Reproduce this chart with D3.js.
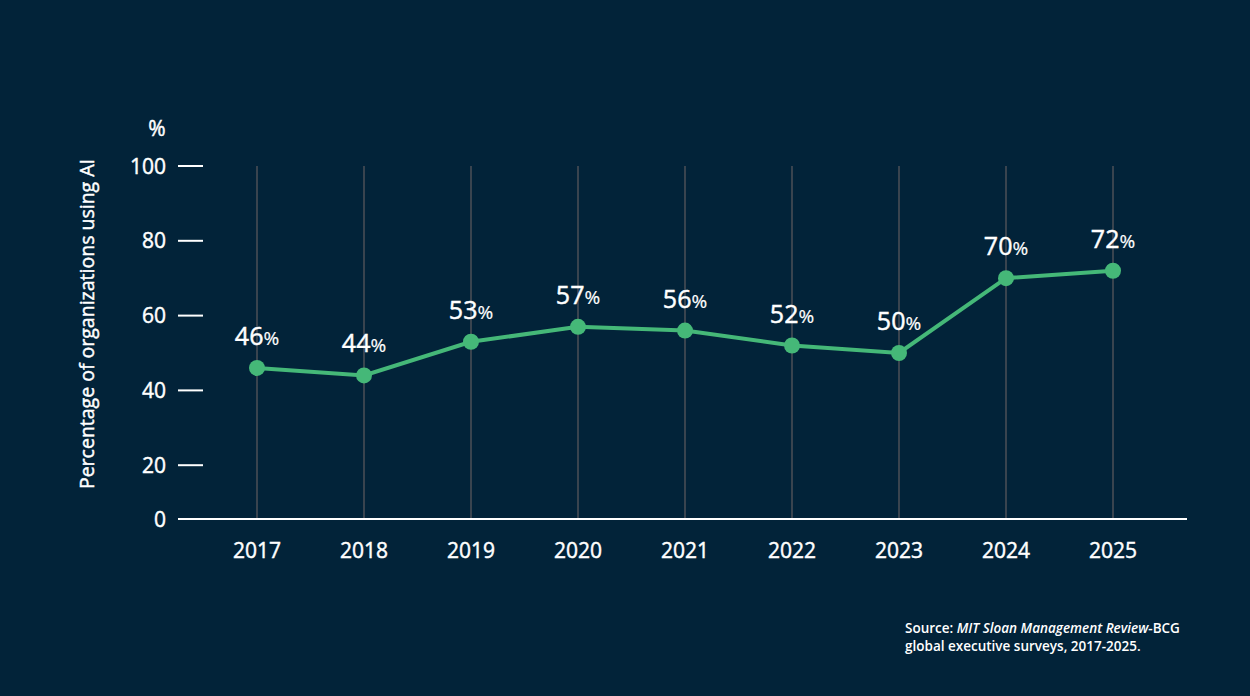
<!DOCTYPE html>
<html>
<head>
<meta charset="utf-8">
<script src="https://cdn.jsdelivr.net/npm/d3@7"></script>
<style>
  html, body { margin: 0; padding: 0; background: #022339; }
  svg { display: block; font-family: "Open Sans", sans-serif; }
  .lbl { stroke: #ffffff; stroke-width: 0.45px; }
</style>
</head>
<body>
<svg id="chart"></svg>
<script>
// Data
const years = ["2017", "2018", "2019", "2020", "2021", "2022", "2023", "2024", "2025"];
const values = [46, 44, 53, 57, 56, 52, 50, 70, 72];
const yTicks = [0, 20, 40, 60, 80, 100];

const width = 1250, height = 696;
const bg = "#022339";
const green = "#45b878";

const svg = d3.select("#chart")
    .attr("width", width)
    .attr("height", height);

svg.append("rect").attr("width", width).attr("height", height).attr("fill", bg);

// Scales
const x = d3.scalePoint()
    .domain(years)
    .range([257, 1113]);

const y = d3.scaleLinear()
    .domain([0, 100])
    .range([540, 166]);

const baseY = 519;

// Vertical grid lines
svg.append("g")
    .selectAll("line")
    .data(years)
    .enter().append("line")
    .attr("x1", d => x(d))
    .attr("x2", d => x(d))
    .attr("y1", y(100))
    .attr("y2", baseY)
    .attr("stroke", "#39444f")
    .attr("stroke-width", 2);

// Baseline
svg.append("line")
    .attr("x1", 178).attr("x2", 1187)
    .attr("y1", baseY).attr("y2", baseY)
    .attr("stroke", "#ffffff")
    .attr("stroke-width", 2);

// Y ticks (0 sits on the baseline)
const tickPos = v => v === 0 ? baseY : y(v);
const yAxis = svg.append("g");
yAxis.selectAll("line")
    .data(yTicks.filter(v => v > 0))
    .enter().append("line")
    .attr("x1", 178).attr("x2", 203)
    .attr("y1", d => tickPos(d)).attr("y2", d => tickPos(d))
    .attr("stroke", "#ffffff")
    .attr("stroke-width", 2);

yAxis.selectAll("text")
    .data(yTicks)
    .enter().append("text")
    .attr("class", "lbl")
    .attr("x", 166)
    .attr("y", d => tickPos(d))
    .attr("dy", "0.36em")
    .attr("text-anchor", "end")
    .attr("fill", "#ffffff")
    .style("font-size", "21px")
    .text(d => d);

svg.append("text")
    .attr("class", "lbl")
    .attr("x", 157)
    .attr("y", 136)
    .attr("text-anchor", "middle")
    .attr("fill", "#ffffff")
    .style("font-size", "21px")
    .text("%");

// Y axis title
svg.append("text")
    .attr("class", "lbl")
    .attr("transform", "translate(94,324) rotate(-90)")
    .attr("text-anchor", "middle")
    .attr("fill", "#ffffff")
    .style("font-size", "19.5px")
    .text("Percentage of organizations using AI");

// X labels
svg.append("g")
    .selectAll("text")
    .data(years)
    .enter().append("text")
    .attr("class", "lbl")
    .attr("x", d => x(d))
    .attr("y", 558)
    .attr("text-anchor", "middle")
    .attr("fill", "#ffffff")
    .style("font-size", "21px")
    .text(d => d);

// Line
const line = d3.line()
    .x((d, i) => x(years[i]))
    .y(d => y(d));

svg.append("path")
    .datum(values)
    .attr("d", line)
    .attr("fill", "none")
    .attr("stroke", green)
    .attr("stroke-width", 4);

// Points
svg.append("g")
    .selectAll("circle")
    .data(values)
    .enter().append("circle")
    .attr("cx", (d, i) => x(years[i]))
    .attr("cy", d => y(d))
    .attr("r", 8)
    .attr("fill", green);

// Value labels
const labels = svg.append("g")
    .selectAll("text")
    .data(values)
    .enter().append("text")
    .attr("class", "lbl")
    .attr("x", (d, i) => x(years[i]))
    .attr("y", d => y(d) - 23)
    .attr("text-anchor", "middle")
    .attr("fill", "#ffffff")
    .style("font-size", "25px");
labels.append("tspan").text(d => d);
labels.append("tspan").style("font-size", "19px").style("stroke-width", "0.2px").text("%");

// Source
const src = svg.append("text")
    .attr("x", 905)
    .attr("y", 633)
    .attr("fill", "#ffffff")
    .style("font-size", "13.5px")
    .style("font-weight", "600");
src.append("tspan").text("Source: ");
src.append("tspan").style("font-style", "italic").text("MIT Sloan Management Review");
src.append("tspan").text("-BCG");
svg.append("text")
    .attr("x", 905)
    .attr("y", 651)
    .attr("fill", "#ffffff")
    .style("font-size", "13.5px")
    .style("font-weight", "600")
    .text("global executive surveys, 2017-2025.");
</script>
</body>
</html>
